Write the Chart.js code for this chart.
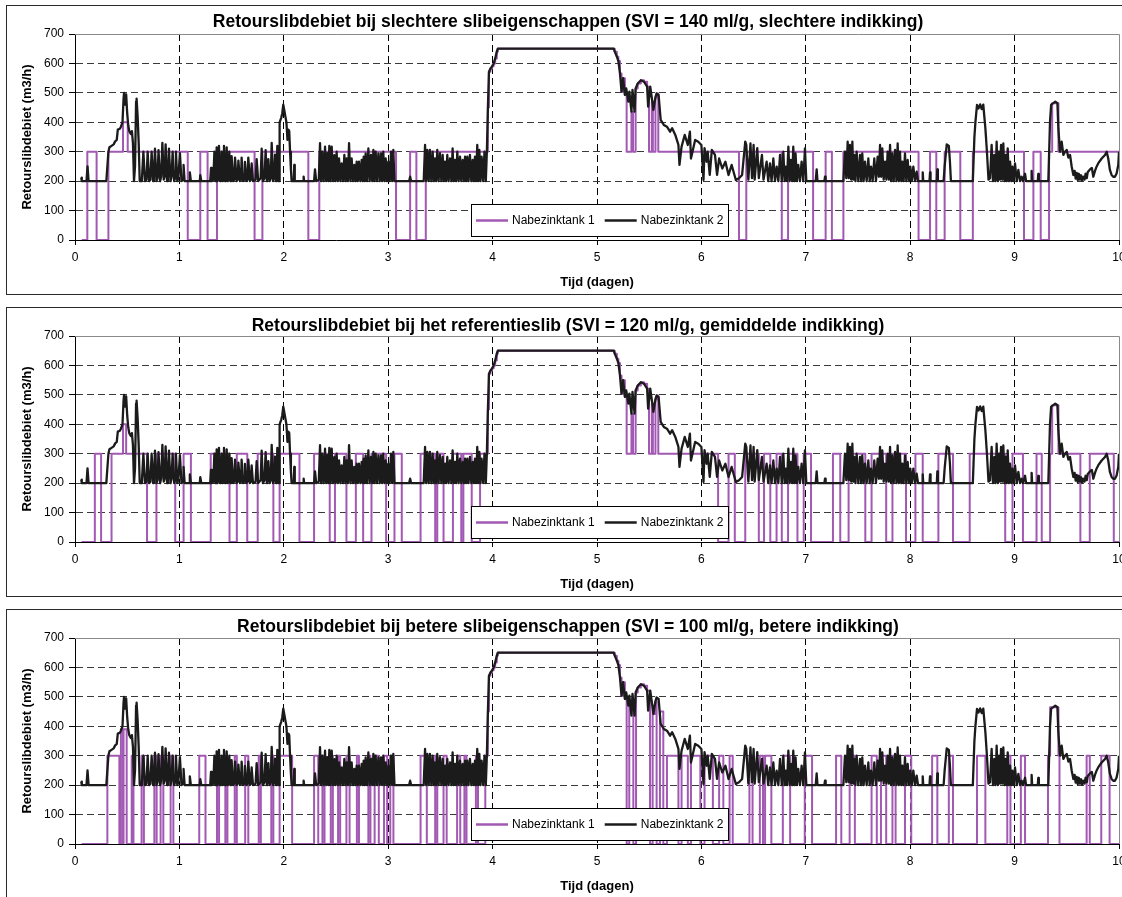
<!DOCTYPE html>
<html>
<head>
<meta charset="utf-8">
<script src="https://cdn.jsdelivr.net/npm/chart.js@4/dist/chart.umd.min.js"></script>
<style>
  html, body { margin: 0; padding: 0; background: #fff; overflow: hidden; width: 1122px; height: 897px; }
  .panel { position: absolute; left: 6px; width: 1140px; height: 288px; border: 1px solid #2a2a2a; background: #fff; }
  .panel canvas { position: absolute; left: 0; top: 0; }
</style>
</head>
<body>
<div class="panel" style="top:5px"><canvas id="grafiek1" width="1140" height="288"></canvas></div>
<div class="panel" style="top:307px"><canvas id="grafiek2" width="1140" height="288"></canvas></div>
<div class="panel" style="top:609px"><canvas id="grafiek3" width="1140" height="288"></canvas></div>
<script>
// ---- Gegevens ----
const titels = [
  'Retourslibdebiet bij slechtere slibeigenschappen (SVI = 140 ml/g, slechtere indikking)',
  'Retourslibdebiet bij het referentieslib (SVI = 120 ml/g, gemiddelde indikking)',
  'Retourslibdebiet bij betere slibeigenschappen (SVI = 100 ml/g, betere indikking)'
];
const seriesNamen = ['Nabezinktank 1', 'Nabezinktank 2'];
const asTitelX = 'Tijd (dagen)';
const asTitelY = 'Retourslibdebiet (m3/h)';
const dagen = [0, 10];          // x-as bereik, stap 1 dag
const debietBereik = [0, 700];  // y-as bereik, stap 100 m3/h

// Nabezinktank 2: [tijd (d), debiet (m3/h)]
const tank2 = [
  [0.06,212],[0.065,200],[0.11,200],[0.12,250],[0.13,200],[0.30,200],[0.32,300],[0.33,315],[0.35,320],[0.37,325],[0.385,335],[0.40,340],[0.41,375],[0.43,378],[0.44,385],[0.455,400],[0.465,480],[0.47,500],[0.48,460],[0.49,495],[0.50,430],[0.51,390],[0.52,370],[0.535,360],[0.545,370],[0.555,330],[0.565,200],[0.575,250],[0.585,470],[0.59,480],[0.60,420],[0.61,330],[0.62,200],
  [0.64,200],[0.655,300],[0.67,200],[0.685,205],[0.696,300],[0.71,200],[0.722,205],[0.734,300],[0.748,200],[0.755,210],[0.766,310],[0.78,200],[0.79,210],[0.80,305],[0.815,200],[0.825,215],[0.837,330],[0.85,205],[0.858,215],[0.868,325],[0.882,200],[0.89,210],[0.90,310],[0.915,200],[0.925,215],[0.935,300],[0.95,200],[0.958,210],[0.967,300],[0.98,200],[0.99,210],[1.005,295],[1.02,200],[1.035,205],[1.04,255],[1.05,200],[1.095,200],[1.10,230],[1.11,200],[1.195,200],[1.20,220],[1.21,200],
  [1.295,200],[1.303,245],[1.31,200],[1.325,205],[1.335,300],[1.345,200],[1.35,210],[1.357,315],[1.366,200],[1.372,215],[1.379,320],[1.39,200],[1.397,210],[1.405,300],[1.415,200],[1.42,215],[1.427,320],[1.437,200],[1.445,210],[1.453,315],[1.463,200],[1.47,205],[1.478,300],[1.488,200],[1.494,210],[1.50,285],[1.515,200],[1.525,205],[1.533,280],[1.548,200],[1.558,205],[1.565,270],[1.58,200],[1.59,205],[1.596,280],[1.61,200],[1.62,205],[1.628,265],[1.642,200],[1.652,205],[1.66,280],[1.675,200],[1.685,205],[1.692,260],[1.705,200],[1.73,205],[1.74,275],[1.755,200],[1.778,210],[1.788,310],[1.80,200],[1.815,210],[1.826,305],[1.838,200],[1.845,210],[1.852,275],[1.865,200],[1.875,210],[1.884,330],[1.897,200],[1.907,210],[1.916,290],[1.926,200],[1.932,215],[1.938,320],[1.948,210],[1.955,200],
  [1.96,400],[1.975,415],[1.985,430],[1.995,460],[2.005,440],[2.015,420],[2.025,400],[2.035,340],[2.045,375],[2.052,370],[2.06,300],[2.068,240],[2.075,200],[2.095,200],[2.10,255],[2.105,200],[2.185,200],[2.19,215],[2.195,200],[2.29,200],[2.299,240],[2.31,200],
  [2.335,205],[2.347,329],[2.358,200],[2.369,300],[2.382,200],[2.395,317],[2.406,200],[2.417,295],[2.427,200],[2.436,320],[2.448,200],[2.459,317],[2.472,200],[2.484,288],[2.495,200],[2.506,300],[2.518,200],[2.529,277],[2.542,200],[2.554,260],[2.567,200],[2.58,289],[2.591,200],[2.602,277],[2.614,200],[2.625,329],[2.638,200],[2.65,277],[2.663,200],[2.676,255],[2.687,200],[2.698,266],[2.709,200],[2.72,266],[2.733,200],[2.746,272],[2.756,200],[2.765,283],[2.775,200],[2.784,294],[2.797,200],[2.81,311],[2.823,200],[2.835,289],[2.847,200],[2.858,306],[2.869,200],[2.88,300],[2.893,200],[2.906,294],[2.919,200],[2.931,294],[2.942,200],[2.953,300],[2.965,200],[2.976,277],[2.989,200],[3.001,266],[3.014,200],[3.027,300],[3.038,200],[3.049,306],[3.06,200],
  [3.20,200],[3.21,215],[3.22,200],[3.34,200],
  [3.353,323],[3.364,200],[3.375,306],[3.388,200],[3.40,306],[3.413,200],[3.426,300],[3.437,200],[3.448,277],[3.459,200],[3.47,306],[3.483,200],[3.496,295],[3.509,200],[3.522,289],[3.533,200],[3.544,266],[3.555,200],[3.566,289],[3.579,200],[3.592,277],[3.605,200],[3.617,311],[3.628,200],[3.64,272],[3.651,200],[3.662,300],[3.675,200],[3.688,283],[3.70,200],[3.713,272],[3.725,200],[3.736,283],[3.747,200],[3.758,283],[3.77,200],[3.783,289],[3.796,200],[3.809,272],[3.82,200],[3.831,283],[3.842,200],[3.853,323],[3.863,200],[3.873,306],[3.884,200],[3.895,283],[3.91,200],[3.922,300],[3.935,200],
  [3.945,300],[3.955,450],[3.965,572],[3.98,583],[3.995,590],[4.01,600],[4.025,617],[4.04,640],[4.05,650],[5.16,650],
  [5.17,640],[5.19,623],[5.205,608],[5.22,566],[5.235,504],[5.25,550],[5.267,493],[5.28,515],[5.30,470],[5.31,504],[5.33,436],[5.34,510],[5.36,436],[5.37,515],[5.39,532],[5.42,543],[5.45,538],[5.48,521],[5.49,453],[5.51,521],[5.53,470],[5.54,442],[5.56,485],[5.57,498],[5.59,493],[5.61,408],[5.64,391],[5.67,385],[5.70,368],[5.72,380],[5.75,357],[5.78,323],[5.79,255],[5.81,317],[5.84,357],[5.87,323],[5.89,368],[5.90,277],[5.94,340],[5.97,334],[6.0,323],[6.02,204],[6.03,312],[6.05,266],[6.06,300],[6.08,221],[6.10,306],[6.13,289],[6.15,221],[6.17,277],[6.20,243],[6.23,266],[6.26,221],[6.29,255],[6.33,204],[6.36,210],[6.39,221],[6.42,334],[6.43,323],[6.45,205],[6.47,328],[6.485,210],[6.50,323],[6.51,205],[6.535,312],[6.55,210],[6.58,289],[6.595,205],
  [6.625,266],[6.64,200],[6.657,260],[6.672,200],[6.689,277],[6.705,200],[6.721,249],[6.737,200],[6.753,289],[6.77,200],[6.785,300],[6.797,200],[6.807,249],[6.82,200],[6.833,317],[6.846,200],[6.858,272],[6.87,200],[6.88,317],[6.892,200],[6.902,294],[6.915,200],[6.928,255],[6.944,200],[6.96,266],[6.976,200],[6.992,311],[7.005,200],
  [7.095,200],[7.104,240],[7.112,200],[7.178,200],[7.184,215],[7.19,200],[7.36,200],
  [7.375,300],[7.388,210],[7.401,334],[7.412,210],[7.423,323],[7.435,205],[7.446,334],[7.456,205],[7.465,289],[7.476,200],[7.487,300],[7.503,200],[7.519,289],[7.53,200],[7.541,294],[7.554,200],[7.567,266],[7.583,200],[7.599,277],[7.612,200],[7.625,249],[7.64,200],[7.656,277],[7.672,200],[7.688,283],[7.70,215],[7.711,323],[7.722,215],[7.733,311],[7.746,205],[7.759,266],[7.772,205],[7.784,300],[7.796,205],[7.807,323],[7.818,200],[7.829,294],[7.842,200],[7.855,306],[7.868,200],[7.88,328],[7.891,200],[7.902,300],[7.914,200],[7.925,266],[7.937,200],[7.95,294],[7.963,200],[7.976,272],[7.989,200],[8.001,249],[8.015,200],[8.03,249],[8.046,200],[8.062,232],[8.075,200],
  [8.115,200],[8.12,230],[8.125,200],[8.185,200],[8.19,230],[8.195,200],[8.255,200],[8.26,240],[8.265,200],[8.32,200],[8.33,250],[8.35,325],[8.37,320],[8.38,270],[8.39,200],[8.60,200],
  [8.615,350],[8.625,402],[8.64,459],[8.655,447],[8.67,461],[8.685,445],[8.70,460],[8.72,380],[8.735,300],[8.75,205],
  [8.765,210],[8.78,323],[8.793,200],[8.806,289],[8.817,200],[8.828,334],[8.84,200],[8.851,300],[8.86,205],[8.87,323],[8.881,205],[8.892,328],[8.904,200],[8.915,289],[8.925,200],[8.934,311],[8.946,200],[8.957,266],[8.968,200],[8.979,249],[8.99,200],[9.004,260],[9.02,200],[9.036,238],[9.052,200],[9.068,215],[9.08,200],[9.10,225],[9.11,200],[9.158,200],[9.163,235],[9.168,200],[9.222,200],[9.227,225],[9.232,200],[9.323,200],
  [9.339,400],[9.35,460],[9.371,465],[9.39,470],[9.41,465],[9.419,380],[9.435,300],[9.451,334],[9.467,289],[9.483,300],[9.499,306],[9.515,280],[9.531,289],[9.547,249],[9.563,221],[9.575,235],[9.585,209],[9.595,228],[9.605,204],[9.615,225],[9.627,205],[9.637,220],[9.647,202],[9.659,215],[9.67,205],[9.68,225],[9.691,210],[9.70,230],[9.722,240],[9.74,245],[9.754,215],[9.77,235],[9.786,250],[9.802,261],[9.834,277],[9.866,289],[9.882,300],[9.897,277],[9.913,238],[9.929,221],[9.945,215],[9.961,215],[9.977,226],[9.993,255],[10.0,300]
];

// Nabezinktank 1 tijdens de hoge belasting (dag 4 - 5,3), gelijk aan tank 2
const tank1Piek = [
  [3.945,300],[3.955,450],[3.965,572],[3.98,583],[3.995,590],[4.01,600],[4.025,617],[4.04,640],[4.05,650],[5.16,650],[5.17,640],[5.19,623],[5.205,608],[5.22,566],[5.235,504],[5.25,550],[5.267,493]
];

// Nabezinktank 1 (trapfunctie): [tijd vanaf (d), debiet (m3/h)]
const tank1Slecht = [
  [0.064,0],[0.118,300],[0.207,0],[0.32,300],[0.46,400],[0.505,300],[1.08,0],[1.20,300],[1.27,0],[1.36,300],[1.72,0],[1.795,300],[2.235,0],[2.34,300],[3.075,0],[3.21,300],[3.27,0],[3.36,300],
  ...tank1Piek,
  [5.284,300],[5.33,436],[5.345,300],[5.37,515],[5.39,532],[5.42,543],[5.45,538],[5.48,521],[5.498,300],[5.525,470],[5.535,300],[5.56,485],[5.575,498],[5.587,300],
  [6.36,0],[6.43,300],[6.77,0],[6.83,300],[7.07,0],[7.19,300],[7.25,0],[7.36,300],[8.08,0],[8.19,300],[8.25,0],[8.33,300],[8.48,0],[8.60,300],[9.09,0],[9.18,300],[9.25,0],[9.33,300],[9.36,465],[9.42,300],[10,300]
];

const tank1Referentie = [
  [0.064,0],[0.19,300],[0.25,0],[0.35,300],[0.46,400],[0.49,300],[0.69,0],[0.78,300],[0.96,0],[1.04,300],[1.11,0],[1.30,300],[1.48,0],[1.55,300],[1.65,0],[1.75,300],[1.90,0],[1.96,300],[2.15,0],[2.29,300],[2.44,0],[2.49,300],[2.60,0],[2.69,300],[2.76,0],[2.84,300],[2.98,0],[3.06,300],[3.13,0],[3.31,300],[3.45,0],[3.47,300],[3.53,0],[3.62,300],[3.70,0],[3.72,300],[3.80,0],[3.88,300],
  ...tank1Piek,
  [5.284,300],[5.33,436],[5.345,300],[5.37,515],[5.39,532],[5.42,543],[5.45,538],[5.48,521],[5.498,300],[5.525,470],[5.535,300],[5.56,485],[5.575,498],[5.587,300],
  [6.16,0],[6.26,300],[6.32,0],[6.42,300],[6.55,0],[6.60,300],[6.66,0],[6.72,300],[6.77,0],[6.83,300],[6.92,0],[6.98,300],[7.05,0],[7.26,300],[7.33,0],[7.41,300],[7.57,0],[7.63,300],[7.77,0],[7.83,300],[7.96,0],[8.05,300],[8.12,0],[8.27,300],[8.41,0],[8.57,300],[8.91,0],[8.98,300],[9.08,0],[9.21,300],[9.26,0],[9.34,300],[9.36,465],[9.42,300],[9.63,0],[9.72,300],[9.95,0],[10,0]
];

const tank1Beter = [
  [0.064,0],[0.31,300],[0.425,0],[0.44,390],[0.46,0],[0.465,390],[0.495,0],[0.543,300],[0.56,0],[0.638,300],[0.66,0],[0.76,300],[0.782,0],[0.82,300],[0.846,0],[0.916,300],[0.942,0],[1.19,300],[1.25,0],[1.36,300],[1.38,0],[1.44,300],[1.46,0],[1.53,300],[1.55,0],[1.63,300],[1.66,0],[1.76,300],[1.78,0],[1.88,300],[1.90,0],[1.96,300],[2.08,0],[2.29,300],[2.33,0],[2.37,300],[2.39,0],[2.45,300],[2.47,0],[2.52,300],[2.54,0],[2.60,300],[2.63,0],[2.70,300],[2.72,0],[2.81,300],[2.83,0],[2.87,300],[2.91,0],[2.96,300],[2.99,0],[3.02,300],[3.05,0],[3.31,300],[3.37,0],[3.45,300],[3.47,0],[3.53,300],[3.56,0],[3.66,300],[3.69,0],[3.73,300],[3.75,0],[3.84,300],[3.86,0],[3.93,300],
  ...tank1Piek,
  [5.284,0],[5.309,480],[5.348,0],[5.374,515],[5.39,532],[5.42,543],[5.45,538],[5.48,521],[5.508,0],[5.533,470],[5.54,442],[5.56,485],[5.571,0],[5.603,450],[5.635,0],[5.67,300],[5.78,0],[5.81,300],[5.87,0],[5.90,300],[5.99,0],[6.03,300],[6.11,0],[6.17,300],[6.21,0],[6.27,300],[6.30,0],[6.46,300],[6.49,0],[6.56,300],[6.59,0],[6.61,300],[6.67,0],[6.78,300],[6.85,0],[6.99,300],[7.06,0],[7.29,300],[7.34,0],[7.42,300],[7.47,0],[7.63,300],[7.68,0],[7.72,300],[7.77,0],[7.83,300],[7.86,0],[7.95,300],[8.01,0],[8.21,300],[8.26,0],[8.37,300],[8.41,0],[8.64,300],[8.72,0],[8.93,300],[8.96,0],[9.06,300],[9.10,0],[9.32,300],[9.34,465],[9.42,300],[9.43,0],[9.69,300],[9.72,0],[9.83,300],[9.91,0],[10,0]
];

// ---- Opmaak ----
const PAARS = '#a259b3';
const ZWART = '#1b1b1b';
const LETTER = '"Liberation Sans", Arial, Helvetica, sans-serif';
Chart.defaults.font.family = LETTER;
Chart.defaults.color = '#000';

const toXY = rows => rows.map(([x, y]) => ({ x, y }));

// Kader, titel en legenda per paneel
const paneelDecor = {
  id: 'paneelDecor',
  beforeDatasetsDraw(chart) {
    const { ctx, chartArea: a } = chart;
    const top = Math.round(a.top) + 0.5, right = Math.round(a.right) + 0.5;
    ctx.save();
    ctx.strokeStyle = '#8a8a8a';
    ctx.lineWidth = 1;
    ctx.beginPath();
    ctx.moveTo(a.left, top);
    ctx.lineTo(right, top);
    ctx.lineTo(right, a.bottom);
    ctx.stroke();
    ctx.restore();
  },
  afterDatasetsDraw(chart, args, opts) {
    const { ctx, chartArea: a } = chart;
    const h = 32, w = 257, x0 = opts.legendaX;
    const y0 = Math.round(a.bottom) - 4 - h;
    ctx.save();
    ctx.fillStyle = '#fff';
    ctx.fillRect(x0, y0, w, h);
    ctx.strokeStyle = '#000';
    ctx.lineWidth = 1;
    ctx.strokeRect(x0 + 0.5, y0 + 0.5, w, h);
    ctx.font = '12px ' + LETTER;
    ctx.textBaseline = 'middle';
    ctx.textAlign = 'left';
    const yc = y0 + h / 2 + 0.5;
    let x = x0 + 5;
    chart.data.datasets.forEach(ds => {
      ctx.strokeStyle = ds.borderColor;
      ctx.lineWidth = 2.5;
      ctx.beginPath();
      ctx.moveTo(x, yc);
      ctx.lineTo(x + 32, yc);
      ctx.stroke();
      ctx.fillStyle = '#000';
      ctx.fillText(ds.label, x + 36, yc);
      x += 36 + ctx.measureText(ds.label).width + 10;
    });
    ctx.restore();
  },
  afterDraw(chart, args, opts) {
    const { ctx } = chart;
    ctx.save();
    ctx.font = 'bold 17.5px ' + LETTER;
    ctx.fillStyle = '#000';
    ctx.textAlign = 'center';
    ctx.textBaseline = 'alphabetic';
    ctx.fillText(opts.titel, opts.titelX, opts.titelY);
    ctx.restore();
  }
};

function maakGrafiek(id, titel, tank1, titelY) {
  return new Chart(document.getElementById(id), {
    type: 'line',
    data: {
      datasets: [
        { label: seriesNamen[0], data: toXY(tank1), borderColor: PAARS, borderWidth: 2, stepped: true, order: 1 },
        { label: seriesNamen[1], data: toXY(tank2), borderColor: ZWART, borderWidth: 2.3, order: 0 }
      ]
    },
    options: {
      responsive: false,
      animation: false,
      devicePixelRatio: 1,
      events: [],
      elements: {
        point: { radius: 0 },
        line: { tension: 0, fill: false, borderJoinStyle: 'round' }
      },
      layout: { padding: { top: 28, right: 28, bottom: 0, left: 0 } },
      plugins: {
        legend: { display: false },
        title: { display: false },
        tooltip: { enabled: false },
        paneelDecor: { titel, titelX: 561, titelY, legendaX: 464 }
      },
      scales: {
        x: {
          type: 'linear', min: dagen[0], max: dagen[1],
          ticks: { stepSize: 1, color: '#000', font: { size: 12 }, padding: 5, maxRotation: 0, autoSkip: false },
          grid: {
            color: c => (c.tick && c.tick.value === dagen[1]) ? 'rgba(0,0,0,0)' : '#000',
            tickColor: '#000', tickLength: 5, lineWidth: 1
          },
          border: { display: true, color: '#000', width: 1, dash: [7, 4] },
          title: { display: true, text: asTitelX, color: '#000', font: { size: 13, weight: 'bold' }, padding: { top: 0, bottom: 4 } },
          afterFit: s => { s.height = 54; }
        },
        y: {
          type: 'linear', min: debietBereik[0], max: debietBereik[1],
          ticks: { stepSize: 100, color: '#000', font: { size: 12 }, padding: 5 },
          grid: {
            color: c => (c.tick && c.tick.value === debietBereik[1]) ? 'rgba(0,0,0,0)' : '#3a3a3a',
            tickColor: '#000', tickLength: 6, lineWidth: 1
          },
          border: { display: true, color: '#000', width: 1, dash: [7, 4] },
          title: { display: true, text: asTitelY, color: '#000', font: { size: 13, weight: 'bold' }, padding: { top: 13, bottom: 0 } },
          afterFit: s => { s.width = 68; }
        }
      }
    },
    plugins: [paneelDecor]
  });
}

maakGrafiek('grafiek1', titels[0], tank1Slecht, 21);
maakGrafiek('grafiek2', titels[1], tank1Referentie, 23);
maakGrafiek('grafiek3', titels[2], tank1Beter, 22);
</script>
</body>
</html>
